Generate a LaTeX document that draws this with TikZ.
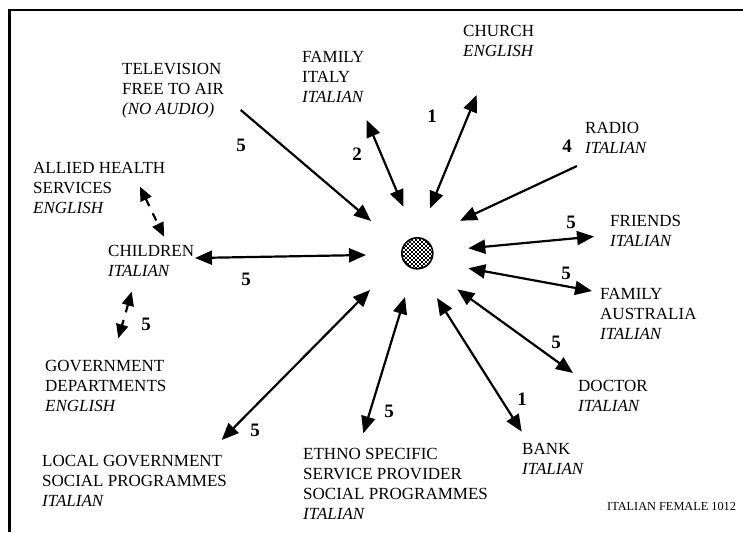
\documentclass[tikz,border=0pt]{standalone}
\usepackage{fontspec}
\setmainfont{Liberation Serif}
\usetikzlibrary{arrows.meta}

\tikzset{
  lbl/.style={anchor=north west, inner sep=0pt, align=left,
    font=\fontsize{17}{20}\selectfont},
  num/.style={inner sep=0pt, font=\fontsize{19}{20}\selectfont\bfseries},
  link/.style={line width=2.2pt, -{Triangle[length=17pt,width=14pt]}},
  both/.style={line width=2.2pt,
    {Triangle[length=17pt,width=14pt]}-{Triangle[length=17pt,width=14pt]}},
  minor/.style={line width=2.2pt, dash pattern=on 8pt off 8pt,
    {Triangle[length=14pt,width=12pt]}-{Triangle[length=14pt,width=12pt]}},
}

\begin{document}
\begin{tikzpicture}[x=1pt, y=-1pt]
\useasboundingbox (0,0) rectangle (743,532);

% frame corner
\draw[line width=2.5pt] (9.5,532) -- (9.5,10) -- (743,10);

% the person at the centre: a fine chequered disc
\node[circle, minimum size=31pt, inner sep=0pt] (self) at (417.3,253.3) {};
\begin{scope}
  \clip (self.center) circle (15.5pt);
  \foreach \i in {0,...,15} {
    \foreach \j in {0,...,15} {
      \pgfmathparse{int(mod(\i+\j,2))}
      \ifnum\pgfmathresult=0
        \fill ([shift={(-16+2*\i,-16+2*\j)}]self.center) rectangle ++(2,2);
      \fi
    }
  }
\end{scope}
\draw[line width=1.6pt] (self.center) circle (15.5pt);

% contacts
\node[lbl] (tv)      at (122,63)  {TELEVISION\\FREE TO AIR\\\textit{(NO AUDIO)}};
\node[lbl] (famit)   at (302,51)  {FAMILY\\ITALY\\\textit{ITALIAN}};
\node[lbl] (church)  at (463,25)  {CHURCH\\\textit{ENGLISH}};
\node[lbl] (radio)   at (585,122) {RADIO\\\textit{ITALIAN}};
\node[lbl] (friends) at (610,215) {FRIENDS\\\textit{ITALIAN}};
\node[lbl] (famau)   at (600,288) {FAMILY\\AUSTRALIA\\\textit{ITALIAN}};
\node[lbl] (doctor)  at (578,380) {DOCTOR\\\textit{ITALIAN}};
\node[lbl] (bank)    at (522,443) {BANK\\\textit{ITALIAN}};
\node[lbl] (ethno)   at (303,448) {ETHNO SPECIFIC\\SERVICE PROVIDER\\SOCIAL PROGRAMMES\\\textit{ITALIAN}};
\node[lbl] (localgov) at (42,455) {LOCAL GOVERNMENT\\SOCIAL PROGRAMMES\\\textit{ITALIAN}};
\node[lbl] (govdept) at (45,360)  {GOVERNMENT\\DEPARTMENTS\\\textit{ENGLISH}};
\node[lbl] (children) at (108,245) {CHILDREN\\\textit{ITALIAN}};
\node[lbl] (allied)  at (33,162)  {ALLIED HEALTH\\SERVICES\\\textit{ENGLISH}};
\node[anchor=north west, inner sep=0pt, font=\fontsize{12.3}{14}\selectfont]
     (caption) at (607,502) {ITALIAN FEMALE 1012};

% arrow end points
\coordinate (tvA) at (240.7,110);   \coordinate (tvB) at (371,221);
\coordinate (fiA) at (366.7,120);   \coordinate (fiB) at (403.3,206.7);
\coordinate (chA) at (476.7,95);    \coordinate (chB) at (430,208.3);
\coordinate (raA) at (577,166);     \coordinate (raB) at (460,220.7);
\coordinate (frA) at (468.3,248.3); \coordinate (frB) at (594,236.5);
\coordinate (faA) at (468.3,268.3); \coordinate (faB) at (592,291);
\coordinate (doA) at (457.3,289.3); \coordinate (doB) at (573,373);
\coordinate (baA) at (437,298);     \coordinate (baB) at (521.7,431.7);
\coordinate (etA) at (405,297);     \coordinate (etB) at (363.3,433.3);
\coordinate (lgA) at (370,290);     \coordinate (lgB) at (221.7,440);
\coordinate (chiA) at (195,258);    \coordinate (chiB) at (366,255);
\coordinate (alA) at (140,186.7);   \coordinate (alB) at (164,236.7);
\coordinate (gdA) at (131.7,291.7); \coordinate (gdB) at (118.3,338.3);

% connectors
\draw[link] (tvA) -- (tvB);
\draw[both] (fiA) -- (fiB);
\draw[both] (chA) -- (chB);
\draw[link] (raA) -- (raB);
\draw[both] (frA) -- (frB);
\draw[both] (faA) -- (faB);
\draw[both] (doA) -- (doB);
\draw[both] (baA) -- (baB);
\draw[both] (etA) -- (etB);
\draw[both] (lgA) -- (lgB);
\draw[both] (chiA) -- (chiB);
\draw[minor] (alA) -- (alB);
\draw[minor] (gdA) -- (gdB);

% contact frequencies
\node[num] (n1)  at (241,145) {5};
\node[num] (n2)  at (357,154) {2};
\node[num] (n3)  at (432,116) {1};
\node[num] (n4)  at (567,146) {4};
\node[num] (n5)  at (571,222) {5};
\node[num] (n6)  at (566,273) {5};
\node[num] (n7)  at (556,342) {5};
\node[num] (n8)  at (522,399) {1};
\node[num] (n9)  at (389,411) {5};
\node[num] (n10) at (255,430) {5};
\node[num] (n11) at (246,279) {5};
\node[num] (n12) at (146,324) {5};
\end{tikzpicture}
\end{document}
